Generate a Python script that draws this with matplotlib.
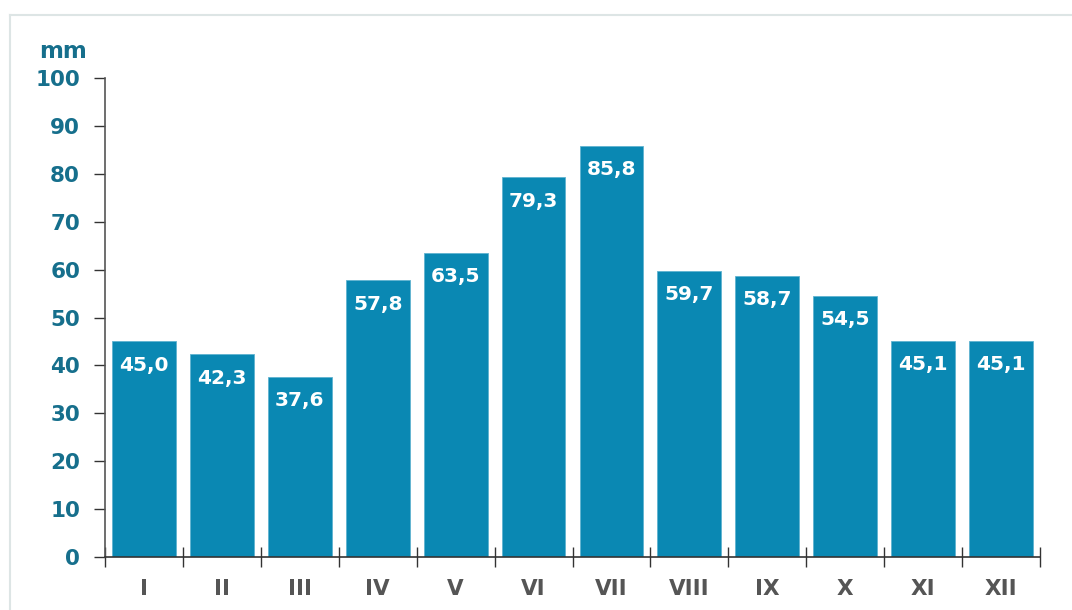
import matplotlib.pyplot as plt
from matplotlib.lines import Line2D


months = ["I", "II", "III", "IV", "V", "VI", "VII", "VIII", "IX", "X", "XI", "XII"]
rain_mm = [45.0, 42.3, 37.6, 57.8, 63.5, 79.3, 85.8, 59.7, 58.7, 54.5, 45.1, 45.1]
y_ticks = [0, 10, 20, 30, 40, 50, 60, 70, 80, 90, 100]

BAR_COLOR = "#0a88b3"
LABEL_COLOR = "#166f8c"
XLAB_COLOR = "#555555"


def main():
    fig = plt.figure(figsize=(10.72, 6.10), dpi=100)

    # light frame: only top and left edges are visible in the picture
    fx = 10 / 1072
    fy = 1 - 15 / 610
    fig.lines.append(Line2D([fx, 1.0], [fy, fy], transform=fig.transFigure,
                            color="#dde5e5", linewidth=1.5))
    fig.lines.append(Line2D([fx, fx], [0.0, fy], transform=fig.transFigure,
                            color="#dde5e5", linewidth=1.5))

    ax = fig.add_axes([105 / 1072, 53 / 610, 935 / 1072, 479 / 610])

    x = list(range(len(months)))
    ax.bar(x, rain_mm, width=0.82, color=BAR_COLOR, edgecolor="#5fb3d0",
           linewidth=0.6, zorder=2)

    for xi, v in zip(x, rain_mm):
        ax.text(xi, v - 5, f"{v:.1f}".replace(".", ","), ha="center",
                va="center", color="white", fontsize=14.5, fontweight="bold",
                zorder=3)

    ax.set_xlim(-0.5, len(months) - 0.5)
    ax.set_ylim(0, 100)

    ax.set_yticks(y_ticks)
    ax.set_yticklabels([str(t) for t in y_ticks], color=LABEL_COLOR,
                       fontsize=15.5, fontweight="bold")
    ax.tick_params(axis="y", direction="out", length=8, width=1,
                   color="#333333", pad=10)

    # boundaries between months carry the ticks
    ax.set_xticks([i - 0.5 for i in range(len(months) + 1)])
    ax.set_xticklabels([])
    ax.tick_params(axis="x", direction="inout", length=14, width=1,
                   color="#333333")
    ax.set_xticks(x, minor=True)
    ax.set_xticklabels(months, minor=True, color=XLAB_COLOR, fontsize=15.5,
                       fontweight="bold")
    ax.tick_params(axis="x", which="minor", length=0, pad=16)

    for side in ["top", "right"]:
        ax.spines[side].set_visible(False)
    ax.spines["left"].set_color("#555555")
    ax.spines["bottom"].set_color("#333333")
    ax.spines["left"].set_linewidth(1.2)
    ax.spines["bottom"].set_linewidth(1.2)

    fig.text(63 / 1072, 1 - 52 / 610, "mm", ha="center", va="center",
             color=LABEL_COLOR, fontsize=16.5, fontweight="bold")

    fig.savefig("out.png", dpi=100)
    plt.close(fig)


if __name__ == "__main__":
    main()
